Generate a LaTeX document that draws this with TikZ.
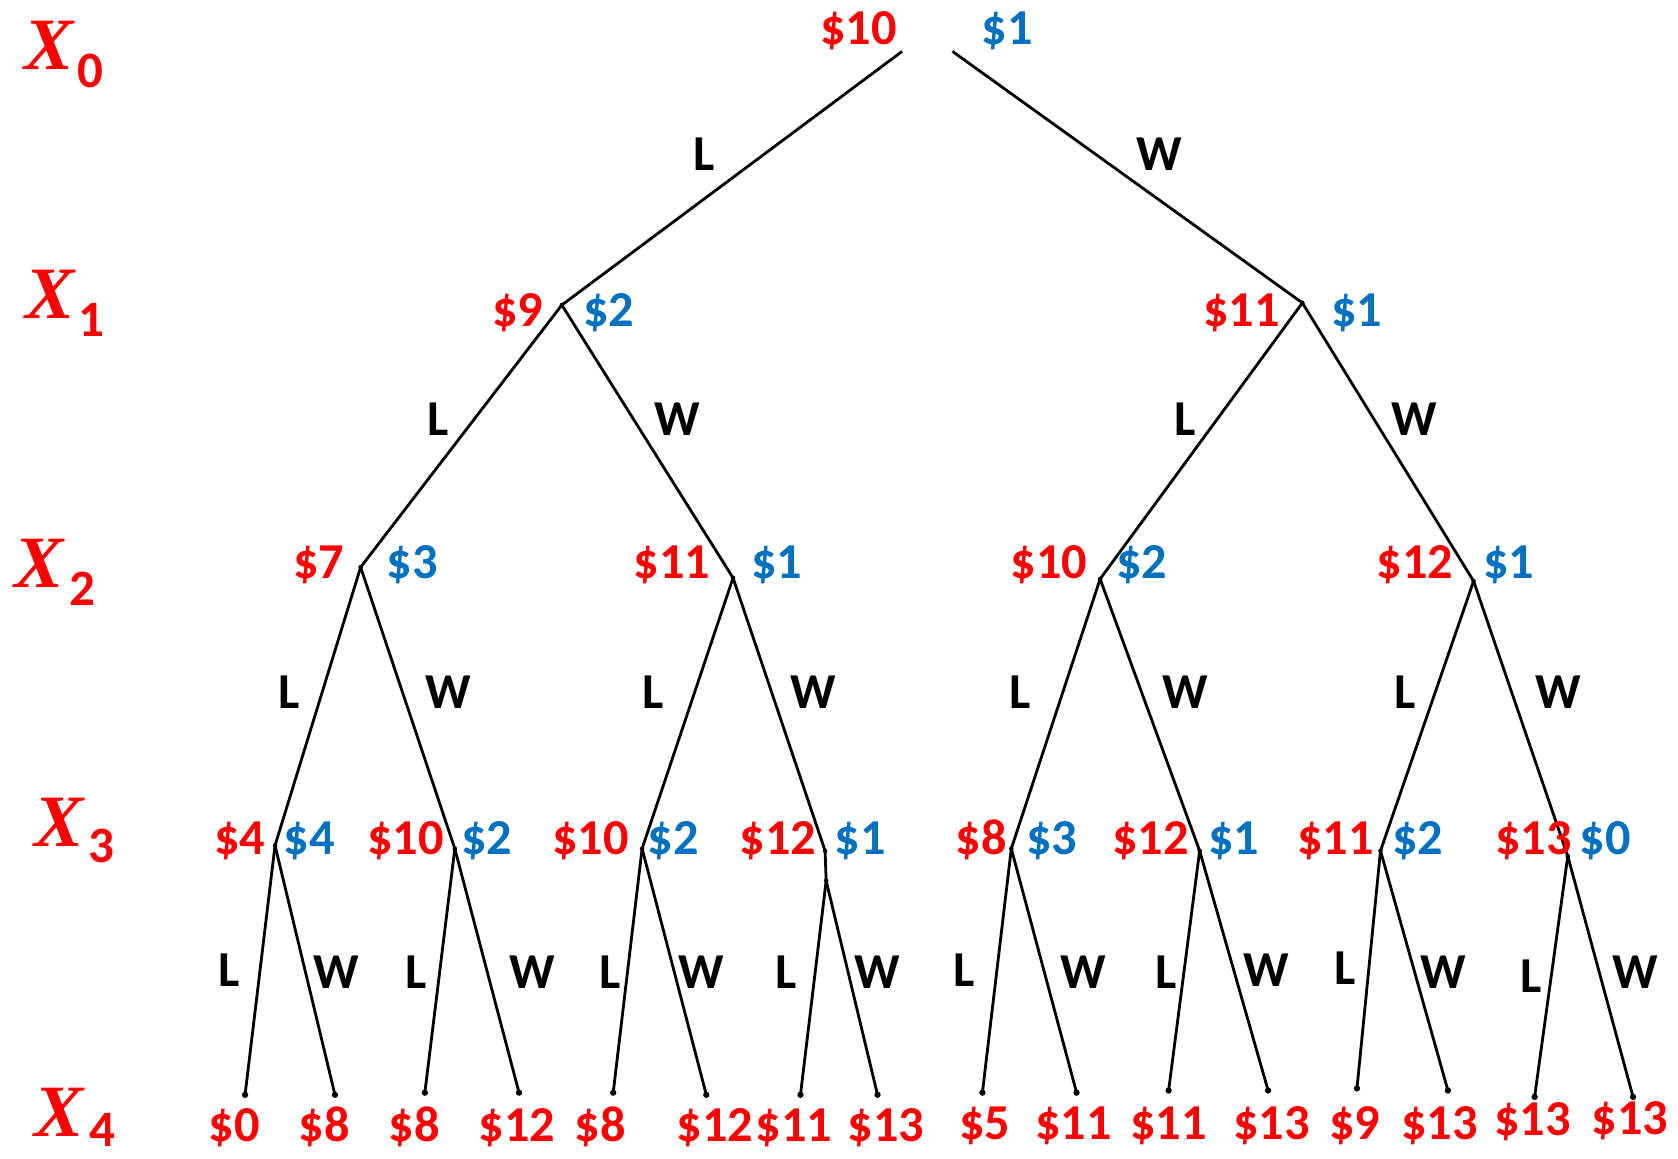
\documentclass[tikz,border=0pt]{standalone}
\usepackage{fontspec}
\setmainfont{Carlito}
\newfontfamily\xfont{Liberation Serif}
\definecolor{cred}{RGB}{255,0,0}
\definecolor{cblue}{RGB}{0,112,192}
\begin{document}
\begin{tikzpicture}[x=0.010702cm,y=-0.010702cm,
  amtr/.style={text=cred,font=\fontsize{14.3}{14.3}\selectfont\bfseries,inner sep=0pt,anchor=base},
  amtb/.style={text=cblue,font=\fontsize{14.3}{14.3}\selectfont\bfseries,inner sep=0pt,anchor=base},
  lwl/.style={text=black,font=\fontsize{14.3}{14.3}\selectfont\bfseries,inner sep=0pt,anchor=base},
  xlab/.style={text=cred,font=\fontsize{21}{21}\selectfont\xfont\bfseries\itshape,inner sep=0pt,anchor=base west},
  xsub/.style={text=cred,font=\fontsize{14.5}{14.5}\selectfont\bfseries,inner sep=0pt,anchor=base west},
  ipt/.style={circle,fill=black,inner sep=0pt,minimum size=1.3pt},
  lpt/.style={circle,fill=black,inner sep=0pt,minimum size=1.8pt},
  edge/.style={line width=0.8pt,black}
]
\useasboundingbox (0,0) rectangle (1568,1083);

% level labels
\node[xlab] (x0) at (22,65) {X};   \node[xsub] (x0s) at (72,82) {0};
\node[xlab] (x1) at (23,298) {X};  \node[xsub] (x1s) at (73,314) {1};
\node[xlab] (x2) at (13,549) {X};  \node[xsub] (x2s) at (64,566) {2};
\node[xlab] (x3) at (32,791) {X};  \node[xsub] (x3s) at (82,806) {3};
\node[xlab] (x4) at (32,1062) {X}; \node[xsub] (x4s) at (83,1071) {4};

% tree points
\coordinate (r0L) at (843,48);
\coordinate (r0R) at (890,48);
\node[ipt] (a) at (525,285) {};
\node[ipt] (b) at (1217,283) {};
\node[ipt] (aa) at (337,530) {};
\node[ipt] (ab) at (685,540) {};
\node[ipt] (ba) at (1028,541) {};
\node[ipt] (bb) at (1377,543) {};
\node[ipt] (aaa) at (257,790) {};
\node[ipt] (aab) at (425,793) {};
\node[ipt] (aba) at (600,793) {};
\node[ipt] (abb) at (771,795) {};
\node[ipt] (abbx) at (772,823) {};
\node[ipt] (baa) at (945,793) {};
\node[ipt] (bab) at (1121,795) {};
\node[ipt] (bba) at (1290,795) {};
\node[ipt] (bbb) at (1465,800) {};
% leaves
\node[lpt] (l1) at (229,1023) {};
\node[lpt] (l2) at (313,1023) {};
\node[lpt] (l3) at (397,1021) {};
\node[lpt] (l4) at (485,1021) {};
\node[lpt] (l5) at (573,1021) {};
\node[lpt] (l6) at (660,1023) {};
\node[lpt] (l7) at (748,1023) {};
\node[lpt] (l8) at (820,1023) {};
\node[lpt] (l9) at (918,1021) {};
\node[lpt] (l10) at (1006,1021) {};
\node[lpt] (l11) at (1092,1019) {};
\node[lpt] (l12) at (1185,1019) {};
\node[lpt] (l13) at (1268,1017) {};
\node[lpt] (l14) at (1353,1019) {};
\node[lpt] (l15) at (1434,1025) {};
\node[lpt] (l16) at (1526,1025) {};

% edges
\draw[edge] (r0L) -- (a.center);
\draw[edge] (r0R) -- (b.center);
\draw[edge] (a.center) -- (aa.center);
\draw[edge] (a.center) -- (ab.center);
\draw[edge] (b.center) -- (ba.center);
\draw[edge] (b.center) -- (bb.center);
\draw[edge] (aa.center) -- (aaa.center);
\draw[edge] (aa.center) -- (aab.center);
\draw[edge] (ab.center) -- (aba.center);
\draw[edge] (ab.center) -- (abb.center);
\draw[edge] (abb.center) -- (abbx.center);
\draw[edge] (ba.center) -- (baa.center);
\draw[edge] (ba.center) -- (bab.center);
\draw[edge] (bb.center) -- (bba.center);
\draw[edge] (bb.center) -- (bbb.center);
\draw[edge] (aaa.center) -- (l1.center);
\draw[edge] (aaa.center) -- (l2.center);
\draw[edge] (aab.center) -- (l3.center);
\draw[edge] (aab.center) -- (l4.center);
\draw[edge] (aba.center) -- (l5.center);
\draw[edge] (aba.center) -- (l6.center);
\draw[edge] (abbx.center) -- (l7.center);
\draw[edge] (abbx.center) -- (l8.center);
\draw[edge] (baa.center) -- (l9.center);
\draw[edge] (baa.center) -- (l10.center);
\draw[edge] (bab.center) -- (l11.center);
\draw[edge] (bab.center) -- (l12.center);
\draw[edge] (bba.center) -- (l13.center);
\draw[edge] (bba.center) -- (l14.center);
\draw[edge] (bbb.center) -- (l15.center);
\draw[edge] (bbb.center) -- (l16.center);

% edge labels
\node[lwl] (e1) at (658,159) {L};
\node[lwl] (e2) at (1083,159) {W};
\node[lwl] (e3) at (409,407) {L};
\node[lwl] (e4) at (633,407) {W};
\node[lwl] (e5) at (1107,407) {L};
\node[lwl] (e6) at (1322,407) {W};
\node[lwl] (e7) at (270,662) {L};
\node[lwl] (e8) at (419,662) {W};
\node[lwl] (e9) at (610,662) {L};
\node[lwl] (e10) at (760,662) {W};
\node[lwl] (e11) at (953,662) {L};
\node[lwl] (e12) at (1108,662) {W};
\node[lwl] (e13) at (1313,662) {L};
\node[lwl] (e14) at (1456,662) {W};
\node[lwl] (f1) at (214,922) {L};
\node[lwl] (f2) at (314,924) {W};
\node[lwl] (f3) at (389,924) {L};
\node[lwl] (f4) at (497,924) {W};
\node[lwl] (f5) at (570,924) {L};
\node[lwl] (f6) at (655,924) {W};
\node[lwl] (f7) at (735,924) {L};
\node[lwl] (f8) at (820,924) {W};
\node[lwl] (f9) at (901,922) {L};
\node[lwl] (f10) at (1012,924) {W};
\node[lwl] (f11) at (1090,924) {L};
\node[lwl] (f12) at (1183,922) {W};
\node[lwl] (f13) at (1257,920) {L};
\node[lwl] (f14) at (1349,924) {W};
\node[lwl] (f15) at (1431,927) {L};
\node[lwl] (f16) at (1528,924) {W};

% amounts X0
\node[amtr] (t0r) at (802,42) {\$10};
\node[amtb] (t0b) at (941,42) {\$1};
% X1
\node[amtr] (t1r1) at (484,305) {\$9};
\node[amtb] (t1b1) at (569,305) {\$2};
\node[amtr] (t1r2) at (1160,305) {\$11};
\node[amtb] (t1b2) at (1268,305) {\$1};
% X2
\node[amtr] (t2r1) at (298,541) {\$7};
\node[amtb] (t2b1) at (385,541) {\$3};
\node[amtr] (t2r2) at (628,541) {\$11};
\node[amtb] (t2b2) at (726,541) {\$1};
\node[amtr] (t2r3) at (980,541) {\$10};
\node[amtb] (t2b3) at (1067,541) {\$2};
\node[amtr] (t2r4) at (1322,541) {\$12};
\node[amtb] (t2b4) at (1410,541) {\$1};
% X3
\node[amtr] (t3r1) at (224,798) {\$4};
\node[amtb] (t3b1) at (289,798) {\$4};
\node[amtr] (t3r2) at (379,798) {\$10};
\node[amtb] (t3b2) at (455,798) {\$2};
\node[amtr] (t3r3) at (552,798) {\$10};
\node[amtb] (t3b3) at (629,798) {\$2};
\node[amtr] (t3r4) at (727,798) {\$12};
\node[amtb] (t3b4) at (804,798) {\$1};
\node[amtr] (t3r5) at (917,798) {\$8};
\node[amtb] (t3b5) at (983,798) {\$3};
\node[amtr] (t3r6) at (1075,798) {\$12};
\node[amtb] (t3b6) at (1153,798) {\$1};
\node[amtr] (t3r7) at (1248,798) {\$11};
\node[amtb] (t3b7) at (1325,798) {\$2};
\node[amtr] (t3r8) at (1433,798) {\$13};
\node[amtb] (t3b8) at (1500,798) {\$0};
% X4
\node[amtr] (t4a) at (219,1067) {\$0};
\node[amtr] (t4b) at (303,1067) {\$8};
\node[amtr] (t4c) at (387,1067) {\$8};
\node[amtr] (t4d) at (483,1067) {\$12};
\node[amtr] (t4e) at (561,1067) {\$8};
\node[amtr] (t4f) at (668,1067) {\$12};
\node[amtr] (t4g) at (742,1067) {\$11};
\node[amtr] (t4h) at (828,1067) {\$13};
\node[amtr] (t4i) at (920,1065) {\$5};
\node[amtr] (t4j) at (1003,1065) {\$11};
\node[amtr] (t4k) at (1092,1065) {\$11};
\node[amtr] (t4l) at (1188,1065) {\$13};
\node[amtr] (t4m) at (1266,1065) {\$9};
\node[amtr] (t4n) at (1345,1065) {\$13};
\node[amtr] (t4o) at (1432,1061) {\$13};
\node[amtr] (t4p) at (1523,1060) {\$13};
\end{tikzpicture}
\end{document}
